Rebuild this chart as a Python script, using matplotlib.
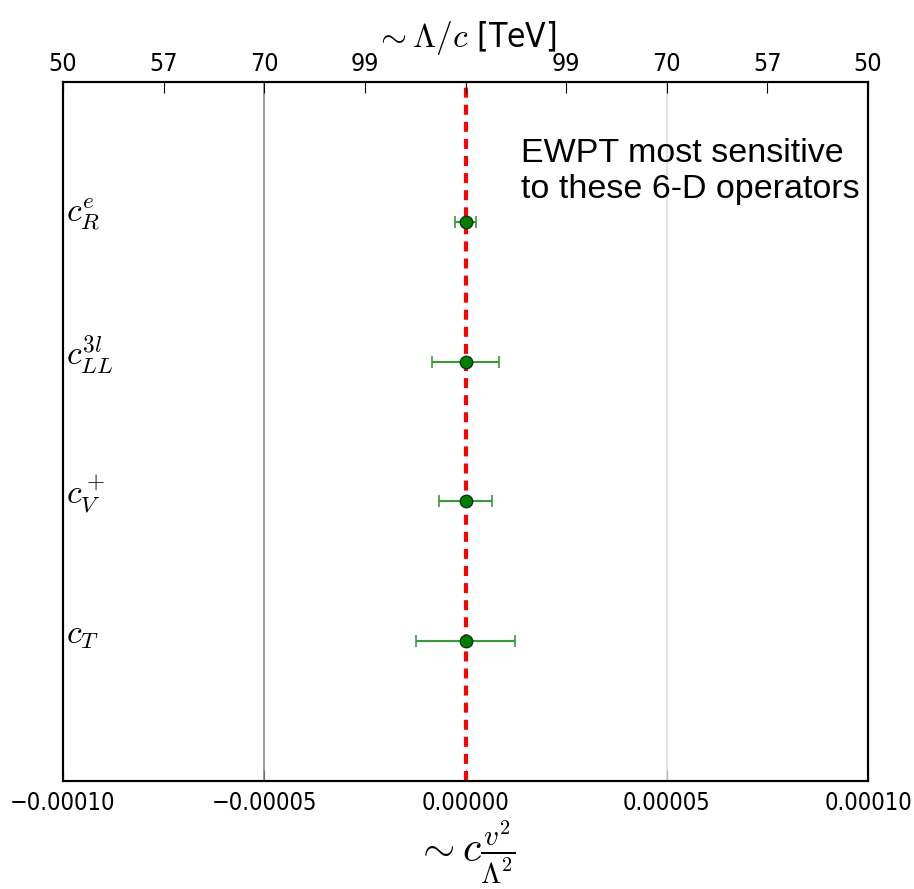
import matplotlib
matplotlib.use("Agg")
import matplotlib.pyplot as plt
from matplotlib.ticker import FixedLocator, FixedFormatter

plt.rcParams['mathtext.fontset'] = 'cm'

# operators, best fit values and 1-sigma widths
operators = [r'$c_R^e$', r'$c_{LL}^{3l}$', r'$c_V^+$', r'$c_T$']
positions = [4, 3, 2, 1]
central = [0.0, 0.0, 0.0, 0.0]
errors = [2.6e-6, 8.3e-6, 6.6e-6, 1.24e-5]

bottom_ticks = [-0.0001, -0.00005, 0.0, 0.00005, 0.0001]
top_ticks = [-0.0001, -0.000075, -0.00005, -0.000025, 0.0,
             0.000025, 0.00005, 0.000075, 0.0001]
top_labels = ['50', '57', '70', '99', '', '99', '70', '57', '50']

fig = plt.figure(figsize=(9.14, 8.89), dpi=100)
ax = fig.add_axes([0.0689, 0.1215, 0.8808, 0.7863])

ax.axvline(-0.00005, color='#888888', lw=1.2)
ax.axvline(0.00005, color='#dddddd', lw=1.2)
ax.axvline(0.0, color='red', lw=3, ls=(0, (2.4, 1.7)), zorder=2)

ax.errorbar(central, positions, xerr=errors, fmt='o', color='#3a9a3a',
            mfc='green', mec='#113311', ms=9, capsize=4, elinewidth=1.5,
            capthick=1.2, zorder=3)

for lab, y in zip(operators, positions):
    ax.text(-0.0000992, y + 0.05, lab, fontsize=24, va='center', ha='left')

ax.text(0.0000137, 4.36, 'EWPT most sensitive\nto these 6-D operators',
        fontsize=24.5, family='Liberation Sans', va='center', ha='left',
        linespacing=1.2)

ax.set_xlim(-0.0001, 0.0001)
ax.set_ylim(0, 5)
ax.set_yticks([])
ax.set_xticks(bottom_ticks)
ax.set_xticklabels(['%.5f' % t if t >= 0 else '\u22120.%s' % ('%.5f' % -t)[2:]
                    for t in bottom_ticks])
ax.tick_params(axis='x', direction='in', length=8, labelsize=17, pad=7)
for t in ax.get_xticklabels():
    t.set_fontstretch('condensed')
ax.set_xlabel(r'$\sim c\frac{v^2}{\Lambda^2}$', fontsize=30, labelpad=3)

top = ax.twiny()
top.set_xlim(ax.get_xlim())
top.xaxis.set_major_locator(FixedLocator(top_ticks))
top.xaxis.set_major_formatter(FixedFormatter(top_labels))
top.tick_params(axis='x', direction='in', length=8, labelsize=18, pad=4)
for t in top.get_xticklabels():
    t.set_fontstretch('condensed')
top.set_xlabel(r'$\sim\Lambda/c$ [TeV]', fontsize=24, labelpad=4,
               fontstretch='condensed')

for a in (ax, top):
    for s in a.spines.values():
        s.set_linewidth(1.5)

fig.savefig('out.png', dpi=100)
